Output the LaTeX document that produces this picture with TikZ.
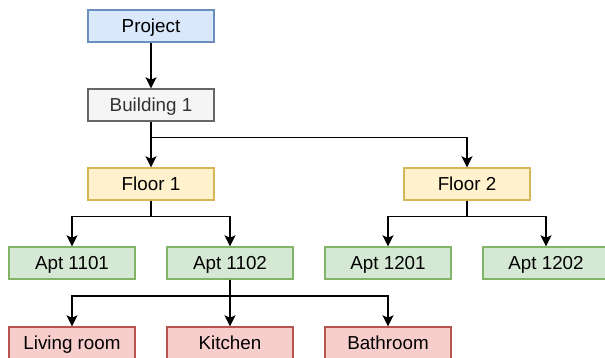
\documentclass[tikz,border=0pt]{standalone}
\usepackage{fontspec}
\setmainfont{Liberation Sans}
\usetikzlibrary{arrows.meta}
\definecolor{blueF}{HTML}{DAE8FC}\definecolor{blueD}{HTML}{6C8EBF}
\definecolor{grayF}{HTML}{F5F5F5}\definecolor{grayD}{HTML}{666666}
\definecolor{grayT}{HTML}{333333}
\definecolor{yelF}{HTML}{FFF2CC}\definecolor{yelD}{HTML}{D6B656}
\definecolor{grnF}{HTML}{D5E8D4}\definecolor{grnD}{HTML}{82B366}
\definecolor{redF}{HTML}{F8CECC}\definecolor{redD}{HTML}{B85450}
\begin{document}
\begin{tikzpicture}[x=1pt,y=-1pt,
  box/.style={draw, line width=1.4pt, minimum width=126pt, minimum height=32pt,
    inner sep=0pt, text height=16pt, text depth=2.8pt,
    font=\fontsize{18.8}{20}\selectfont},
  projbox/.style={box, fill=blueF, draw=blueD},
  bldbox/.style={box, fill=grayF, draw=grayD, text=grayT},
  floorbox/.style={box, fill=yelF, draw=yelD},
  aptbox/.style={box, fill=grnF, draw=grnD},
  roombox/.style={box, fill=redF, draw=redD},
  link/.style={draw, line width=1.6pt, -{Stealth[length=11pt,width=11pt,inset=2.5pt]}}
]
\useasboundingbox (0,0) rectangle (605,358);

% hierarchy boxes
\node[projbox] (proj) at (151,26) {Project};
\node[bldbox] (bld) at (151,105) {Building 1};
\node[floorbox] (f1) at (151,184) {Floor 1};
\node[floorbox] (f2) at (467,184) {Floor 2};
\node[aptbox] (a1101) at (72,263) {Apt 1101};
\node[aptbox] (a1102) at (230,263) {Apt 1102};
\node[aptbox] (a1201) at (388,263) {Apt 1201};
\node[aptbox] (a1202) at (546,263) {Apt 1202};
\node[roombox] (living) at (72,343) {Living room};
\node[roombox] (kitchen) at (230,343) {Kitchen};
\node[roombox] (bath) at (388,343) {Bathroom};

% connectors
\draw[link] (proj) -- (bld);
\draw[link] (bld.south) -- ++(0,16) -| (f1.north);
\draw[link] (bld.south) -- ++(0,16) -| (f2.north);
\draw[link] (f1.south) -- ++(0,16) -| (a1101.north);
\draw[link] (f1.south) -- ++(0,16) -| (a1102.north);
\draw[link] (f2.south) -- ++(0,16) -| (a1201.north);
\draw[link] (f2.south) -- ++(0,16) -| (a1202.north);
\draw[link] (a1102.south) -- ++(0,16) -| (living.north);
\draw[link] (a1102.south) -- (kitchen.north);
\draw[link] (a1102.south) -- ++(0,16) -| (bath.north);
\end{tikzpicture}
\end{document}
